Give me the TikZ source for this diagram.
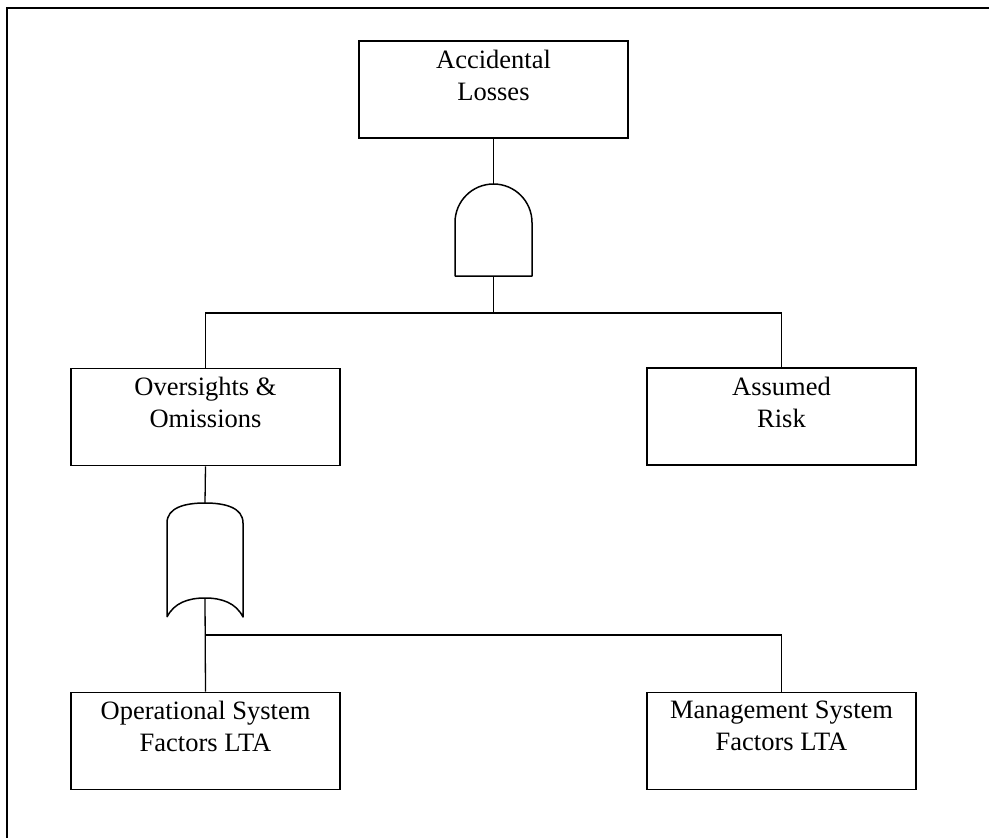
\documentclass[tikz,border=0pt]{standalone}
\usepackage{fontspec}
\setmainfont{Liberation Serif}
\begin{document}
\begin{tikzpicture}[x=1pt,y=-1pt,
  box/.style={draw,line width=1.6pt,rectangle,minimum width=269pt,minimum height=97pt,inner sep=0pt},
  lbl/.style={anchor=north,align=center,inner sep=0pt,font=\fontsize{26.5}{32}\selectfont},
  wire/.style={line width=1.3pt},
  gate/.style={line width=1.5pt,line join=round}]
\useasboundingbox (0,0) rectangle (989,838);
% page frame (top and left edges)
\draw[line width=1.8pt] (7,838) -- (7,8) -- (989,8);

% events
\node[box] (acc) at (493.5,89.5) {};
\node[lbl] (accT) at ([yshift=-9.5pt]acc.north) {Accidental\\Losses};
\node[box] (ovs) at (205.5,417) {};
\node[lbl] (ovsT) at ([yshift=-9.5pt]ovs.north) {Oversights \&\\Omissions};
\node[box] (risk) at (781.5,416.5) {};
\node[lbl] (riskT) at ([yshift=-9.5pt]risk.north) {Assumed\\Risk};
\node[box] (ops) at (205.5,741) {};
\node[lbl] (opsT) at ([yshift=-9.5pt]ops.north) {Operational System\\Factors LTA};
\node[box] (mgt) at (781.5,741) {};
\node[lbl] (mgtT) at ([yshift=-9.5pt]mgt.north) {Management System\\Factors LTA};

% AND gate: rectangle with a semicircular top
\coordinate (andTop) at (493.5,184);
\coordinate (andBot) at (493.5,276);
\draw[gate] (455,276) -- (455,222.5) arc[start angle=180,end angle=360,radius=38.5] -- (532,276) -- cycle;

% OR gate
\coordinate (orTop) at (205,503);
\coordinate (orBot) at (205,598);
\draw[gate] (167,617) -- (167,523)
  .. controls (167,508) and (184,503) .. (205,503)
  .. controls (226,503) and (243,508) .. (243,523)
  -- (243,617)
  .. controls (236,603) and (222,598) .. (205,598)
  .. controls (188,598) and (174,603) .. (167,617);

% buses
\coordinate (busA) at (493.5,313);
\coordinate (busB) at (205,635);
\draw[wire] (acc.south) -- (andTop);
\draw[wire] (andBot) -- (busA);
\draw[wire] (ovs.north) |- (busA) -| (risk.north);
\draw[wire] (ovs.south) -- (orTop);
\draw[wire] (orBot) -- (ops.north);
\draw[wire] (busB) -| (mgt.north);
\end{tikzpicture}
\end{document}
